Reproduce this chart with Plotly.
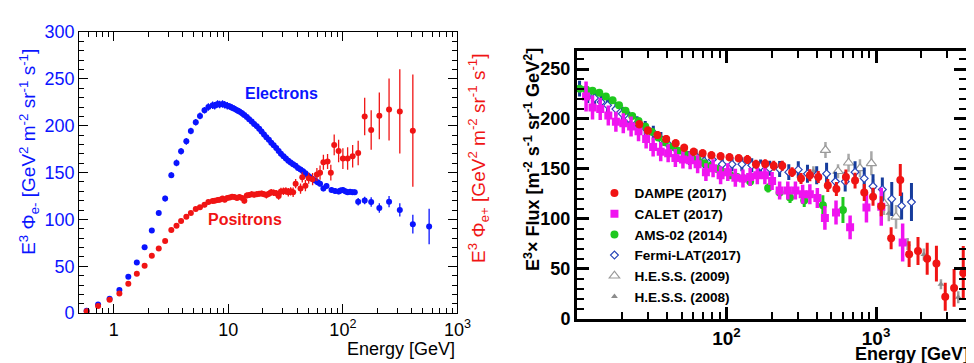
import plotly.graph_objects as go

# ---------------- Left panel data ----------------
e_energy = [0.58, 0.73, 0.92, 1.12, 1.34, 1.59, 1.86, 2.15, 2.47, 2.81, 3.18, 3.53, 3.87, 4.30, 4.71,
            5.20, 5.66, 6.2, 6.7, 7.3, 7.6, 8.06, 8.4, 8.9, 9.3, 9.8, 10.3, 10.8, 11.3, 11.9, 12.5,
            13.2, 13.8, 14.5, 15.2, 16.0, 16.8, 17.7, 18.6, 19.5, 20.5, 21.5, 22.6, 23.7, 24.9,
            26.2, 27.5, 28.8, 30.3, 31.8, 33.4, 35.0, 36.8, 38.7, 40.6, 42.7, 44.9, 47.1, 49.5,
            52.0, 54.6, 57.3, 60.2, 63.2, 67.6, 72.0, 79.6, 85.5, 91.8, 95.5, 100, 105, 110, 115.5,
            121.7, 127, 136, 155, 176.6, 208, 253, 314, 408, 566]
e_flux = [2.4, 9.1, 15.2, 24.6, 38.8, 53.9, 70.4, 88.3, 106.8, 122.3, 147.3, 160.4, 172.9, 183.4, 194.5,
          203.9, 210.6, 216.7, 220.0, 222.0, 221.5, 223.4, 222.8, 223.4, 222.5, 221.4, 220.6, 219.4, 218.2,
          216.7, 215.2, 213.3, 211.5, 209.3, 207.0, 204.6, 202.0, 199.6, 196.8, 193.8, 190.8, 187.7, 185.0,
          182.0, 179.3, 176.3, 173.0, 170.2, 167.5, 165.2, 162.8, 160.8, 159.0, 157.4, 155.0, 153.4, 151.5,
          149.3, 147.0, 145.0, 143.2, 141.6, 139.8, 138.2, 133.0, 135.8, 131.4, 130.5, 129.8, 130.8, 131.4,
          130.0, 129.0, 129.5, 129.0, 129.0, 119.0, 120.3, 118.6, 112.2, 119.0, 110.2, 95.0, 92.4]
e_err = [1, 1, 1, 1, 1, 1, 1.5, 2, 2.5, 3, 3, 3.5, 3.5, 3.5, 3.5,
         3.5, 3.5, 3.5, 4, 4, 4, 4, 4, 4, 4, 4, 3.5, 3.5, 3.5, 3.5, 3.5,
         3.5, 3, 3, 3, 3, 3, 3, 3, 3, 3, 3, 3, 3, 3,
         3, 3, 3, 3, 3, 3, 3, 3, 3, 3, 3, 3, 3, 3,
         3, 3, 3, 3, 3, 3, 3, 3, 3, 3, 3, 3, 3, 3, 3,
         3, 3, 4, 4, 5, 5, 6, 7, 10, 19]

p_energy = [0.58, 0.73, 0.92, 1.12, 1.34, 1.59, 1.86, 2.15, 2.47, 2.81, 3.18, 3.53, 3.87, 4.30, 4.71,
            5.20, 5.66, 6.2, 6.7, 7.3, 7.6, 8.06, 8.4, 8.9, 9.3, 9.8, 10.3, 10.8, 11.3, 11.9, 12.5,
            13.2, 13.8, 14.5, 15.2, 16.0, 16.8, 17.7, 18.6, 19.5, 20.5, 21.5, 22.6, 23.7, 24.9,
            26.2, 27.5, 28.8, 30.3, 31.8, 33.4, 35.0, 36.8, 38.7, 42.7, 44.2, 47.1, 50.3, 54.4,
            59.3, 63.2, 67.6, 73.5, 78.5, 84, 91.8, 100, 110, 121.7, 136, 155, 176.6, 208, 253, 314, 408]
p_flux = [0.2, 0.75, 1.42, 2.1, 3.13, 4.2, 5.05, 6.13, 6.9, 7.7, 8.86, 9.34, 9.84, 10.28, 10.68,
          11.12, 11.29, 11.56, 11.87, 11.97, 12.0, 12.07, 12.1, 12.23, 12.1, 12.3, 12.35, 12.43, 12.4,
          12.3, 12.4, 12.3, 12.0, 12.57, 12.6, 12.7, 12.65, 12.7, 12.75, 12.77, 12.7, 12.6, 12.75,
          12.9, 12.85, 12.8, 12.5, 12.98, 13.0, 13.05, 12.9, 13.0, 12.9, 13.82, 13.3, 14.5, 13.6,
          14.4, 14.3, 14.8, 15.0, 16.1, 16.2, 15.0, 17.96, 17.3, 16.5, 16.5, 16.75, 17.1, 21.0,
          19.55, 21.07, 21.74, 21.54, 19.48]
p_err = [0.1, 0.1, 0.1, 0.1, 0.1, 0.15, 0.15, 0.15, 0.2, 0.2, 0.2, 0.2, 0.2, 0.2, 0.2,
         0.2, 0.2, 0.25, 0.25, 0.25, 0.25, 0.25, 0.25, 0.25, 0.25, 0.25, 0.25, 0.25, 0.25, 0.25, 0.25,
         0.25, 0.3, 0.3, 0.3, 0.3, 0.3, 0.3, 0.3, 0.3, 0.3, 0.35, 0.35, 0.35, 0.35,
         0.35, 0.4, 0.4, 0.4, 0.4, 0.45, 0.45, 0.5, 0.5, 0.55, 0.55, 0.6, 0.6, 0.65,
         0.7, 0.75, 0.8, 0.8, 0.85, 1.1, 1.2, 1.1, 1.2, 1.2, 1.3, 2.0, 2.1, 2.5, 3.3, 4.5, 6.0]

left_xtick_vals = [1, 10, 100, 1000]
left_xtick_text = ["1", "10", "10<sup>2</sup>", "10<sup>3</sup>"]
left_y_ticks = [0, 50, 100, 150, 200, 250, 300]
right_y_ticks = [5, 10, 15, 20, 25]

# ---------------- Right panel data ----------------
dampe_E = [26.1, 29.8, 34.5, 39.5, 45.7, 52.1, 60.3, 69.2, 79.3, 91.3, 104.7, 120.6, 138, 157.4, 181.4,
           207, 236, 274.7, 315, 361, 411, 476, 543, 629, 724, 834, 955, 1084, 1262, 1453, 1665, 1909,
           2199, 2535, 2904, 3328, 3832]
dampe_F = [194.8, 188.4, 184.0, 179.9, 175.8, 171.1, 167.3, 165.7, 163.8, 162.6, 161.6, 160.7, 159.4,
           154.7, 155.3, 153.1, 153.1, 146.8, 140.5, 143.6, 142.0, 133.5, 130.0, 142.0, 138.3, 126.3,
           122.2, 112.7, 80.5, 138.9, 64.7, 67.9, 60.0, 55.2, 22.1, 30.9, 45.8]
dampe_err = [4, 4, 4, 4, 4, 4, 4, 4, 4, 4, 4, 4, 4.5, 4.5, 4.5, 5, 5, 5, 5.5, 6, 6, 6.5, 7, 7.5, 8, 8.5,
             9, 10, 11, 16, 13, 14, 16, 18, 14, 19, 27]

calet_E = [11.5, 12.7, 14.3, 16.2, 18.2, 20.4, 23.0, 25.8, 29.0, 32.3, 36.3, 40.7, 45.5, 51.1, 57.1,
           64.1, 72.8, 81.3, 91.3, 102, 114.6, 128.8, 143.9, 160.7, 180.6, 201.8, 226.6, 257, 289, 323,
           361, 405, 455, 540, 671, 863, 1084, 1507]
calet_F = [222.5, 211.5, 209.9, 203.6, 197.3, 195.7, 192.5, 187.8, 179.9, 172.0, 167.3, 165.7, 161.0,
           159.4, 158.8, 154.7, 146.8, 150.6, 143.6, 146.8, 141.1, 140.5, 142.0, 143.6, 143.6, 137.9,
           128.5, 128.5, 128.5, 124.7, 124.7, 120.9, 101.0, 106.4, 91.5, 111.4, 112.1, 76.4]
calet_err = [15, 12, 11, 10, 10, 10, 10, 10, 9.5, 9.5, 9.5, 9, 9, 9, 9, 9, 9, 9, 9, 9, 9, 9, 9, 9, 9, 9,
             9, 9, 9, 9.5, 10, 10, 12, 12, 12, 15, 19, 19]

ams_E = [10.4, 11.5, 12.7, 14.1, 15.6, 17.3, 19.1, 21.1, 23.4, 25.8, 28.6, 31.6, 35.0, 38.7, 42.9, 47.3,
         52.4, 57.9, 64.1, 70.9, 78.5, 86.9, 96.0, 106.2, 117.5, 130, 143.9, 189.8, 226.6, 266, 331, 441, 601]
ams_F = [230.4, 229.5, 228.2, 226.3, 222.5, 218.8, 213.7, 208.3, 203.0, 197.9, 192.5, 187.2, 181.5, 176.8,
         172.0, 168.2, 165.1, 162.6, 159.4, 155.6, 153.1, 149.9, 146.8, 143.6, 142.0, 140.5, 137.3, 131.0,
         126.3, 121.5, 118.4, 113.6, 108.9]
ams_err = [3, 3, 3, 3, 3, 3, 3, 3, 3, 3, 3, 3, 3, 3, 3, 3, 3, 3, 3, 3, 3, 3, 3.5, 3.5, 3.5, 4, 4, 4.5,
           5, 5.5, 6.5, 10, 13]

fermi_E = [10.4, 11.8, 13.1, 14.5, 16.0, 18.2, 20.1, 22.2, 25.2, 28.6, 32.4, 36.4, 40.7, 46.2, 52.4, 56.5,
           62.5, 70.9, 80.5, 93.6, 108.9, 126.7, 147.5, 169, 194.7, 226.6, 261, 302, 348, 401, 467, 535,
           622, 724, 834, 955, 1102, 1274, 1483, 1726]
fermi_F = [230.4, 224.1, 221.0, 216.9, 213.7, 209.9, 205.2, 200.4, 195.7, 191.0, 186.2, 179.9, 174.6, 169.5,
           165.7, 161.0, 162.6, 157.8, 159.4, 154.7, 154.7, 154.7, 153.7, 152.5, 150.6, 149.9, 146.8, 149.3,
           145.2, 143.6, 145.2, 137.3, 137.3, 146.8, 140.5, 132.6, 129.4, 120.0, 113.0, 116.8]
fermi_err = [8, 8, 7, 7, 7, 7, 7, 7, 7, 7, 7, 7, 7, 7, 7, 7, 7, 7, 7, 7, 7, 7, 7, 7, 7.5, 8, 8, 8.5,
             9, 9, 11, 10, 10, 11, 11, 12, 12, 17, 13.5, 19]

hess09_E = [459, 557, 655, 781, 931, 1129, 1361]
hess09_F = [168.9, 147.7, 156.2, 150.6, 155.6, 115.8, 102.0]
hess09_err = [8, 7, 9, 9, 12, 12, 12]

hess08_E = [381, 955, 1218, 1627, 2089, 2718, 3548]
hess08_F = [147.7, 131.6, 105.7, 74.8, 64.3, 34.5, 21.5]
hess08_err = [5, 8, 8, 6, 6, 5, 6]

right_xtick_vals = [100, 1000]
right_xtick_text = ["<b>10<sup>2</sup></b>", "<b>10<sup>3</sup></b>"]
right_y_ticks = [0, 50, 100, 150, 200, 250]

# ---------------- Figure ----------------
W, H = 974, 363
FONT = "Liberation Sans, Arial, Helvetica, sans-serif"
BLUE = "#0a14ff"
RED = "#f01414"

def px_x(p):
    return p / W

def px_y(p):
    return 1 - p / H

fig = go.Figure()

fig.add_trace(go.Scatter(x=e_energy, y=e_flux, mode="markers", xaxis="x", yaxis="y",
                         marker=dict(color=BLUE, size=6),
                         error_y=dict(type="data", array=e_err, color=BLUE, thickness=1.3, width=0),
                         showlegend=False))
fig.add_trace(go.Scatter(x=p_energy, y=p_flux, mode="markers", xaxis="x", yaxis="y2",
                         marker=dict(color=RED, size=6),
                         error_y=dict(type="data", array=p_err, color=RED, thickness=1.3, width=0),
                         showlegend=False))

def add_right(name, rank, x, y, err, symbol, color, size, ecolor, eth, line=None):
    fig.add_trace(go.Scatter(x=x, y=y, mode="markers", xaxis="x3", yaxis="y3", name=name,
                             legendgroup=name, legendrank=rank,
                             marker=dict(symbol=symbol, color=color, size=size,
                                         line=line if line else dict(width=0)),
                             error_y=dict(type="data", array=err, color=ecolor, thickness=eth, width=0)))

add_right("H.E.S.S. (2008)", 6, hess08_E, hess08_F, hess08_err, "triangle-up", "#8c8c8c", 6, "#a0a0a0", 2.5)
add_right("H.E.S.S. (2009)", 5, hess09_E, hess09_F, hess09_err, "triangle-up", "white", 9, "#a8a8a8", 2.5,
          line=dict(color="#9a9a9a", width=1.2))
add_right("Fermi-LAT(2017)", 4, fermi_E, fermi_F, fermi_err, "diamond", "white", 6, "#163c9c", 3,
          line=dict(color="#2846b8", width=1.2))
add_right("AMS-02 (2014)", 3, ams_E, ams_F, ams_err, "circle", "#1ec81e", 8, "#1ec81e", 3)
add_right("CALET (2017)", 2, calet_E, calet_F, calet_err, "square", "#f014f0", 8, "#f014f0", 3.5)
add_right("DAMPE (2017)", 1, dampe_E, dampe_F, dampe_err, "circle", RED, 8, RED, 3)

minor_log_left = [m * 10 ** d for d in range(-1, 3) for m in range(2, 10)]
minor_log_right = [m * 10 ** d for d in range(1, 4) for m in range(2, 10)]

left_dom_x = [px_x(72.3), px_x(456)]
left_dom_y = [px_y(312.3), px_y(15)]
right_dom_x = [px_x(577.3), px_x(972)]
right_dom_y = [px_y(318.3), px_y(35)]

fig.update_layout(
    width=W, height=H, margin=dict(l=0, r=0, t=0, b=0),
    paper_bgcolor="white", plot_bgcolor="white",
    font=dict(family=FONT, color="black"),
    xaxis=dict(type="log", range=[-0.30103, 3], domain=left_dom_x, anchor="y",
               showgrid=False, zeroline=False, showline=True, linecolor="black", linewidth=1.3,
               mirror="ticks", ticks="inside", ticklen=9, tickwidth=1.1, tickcolor="black",
               tickvals=left_xtick_vals, ticktext=left_xtick_text,
               tickfont=dict(size=18, color="black"),
               minor=dict(tickmode="array", tickvals=minor_log_left, ticks="inside", ticklen=5,
                          tickwidth=1.1, tickcolor="black", showgrid=False)),
    yaxis=dict(range=[0, 300], domain=left_dom_y, anchor="x",
               showgrid=False, zeroline=False, showline=True, linecolor="black", linewidth=1.3,
               mirror="ticks", ticks="inside", ticklen=9, tickwidth=1.1, tickcolor="black",
               tickvals=left_y_ticks, tickfont=dict(size=18, color=BLUE),
               minor=dict(dtick=10, ticks="inside", ticklen=5, tickwidth=1.1, tickcolor="black",
                          showgrid=False)),
    yaxis2=dict(range=[0, 30], overlaying="y", side="right", anchor="x",
                showgrid=False, zeroline=False, showline=False, ticks="",
                tickvals=right_y_ticks, ticklabelposition="inside",
                tickfont=dict(size=18, color=RED), ticklabelstandoff=6),
    xaxis3=dict(type="log", range=[1, 3.602], domain=right_dom_x, anchor="y3",
                showgrid=False, zeroline=False, showline=True, linecolor="black", linewidth=3,
                mirror="ticks", ticks="inside", ticklen=12, tickwidth=2.5, tickcolor="black",
                tickvals=right_xtick_vals, ticktext=right_xtick_text,
                tickfont=dict(size=19, color="black"),
                minor=dict(tickmode="array", tickvals=minor_log_right, ticks="inside", ticklen=7,
                           tickwidth=2.2, tickcolor="black", showgrid=False)),
    yaxis3=dict(range=[0, 268], domain=right_dom_y, anchor="x3",
                showgrid=False, zeroline=False, showline=True, linecolor="black", linewidth=3,
                mirror="ticks", ticks="inside", ticklen=12, tickwidth=2.5, tickcolor="black",
                tickvals=right_y_ticks, tickfont=dict(size=18, color="black", weight="bold"),
                minor=dict(dtick=10, ticks="inside", ticklen=7, tickwidth=2.2, tickcolor="black",
                           showgrid=False)),
    legend=dict(x=px_x(595), y=px_y(169), xanchor="left", yanchor="top",
                bgcolor="rgba(0,0,0,0)", traceorder="grouped", tracegroupgap=0,
                font=dict(size=13.6, color="black", weight="bold"), itemwidth=30),
)

ann = [
    dict(text="<b>Electrons</b>", x=px_x(277), y=px_y(80), font=dict(size=16, color=BLUE)),
    dict(text="<b>Positrons</b>", x=px_x(240), y=px_y(213), font=dict(size=16, color=RED)),
    dict(text="E<sup>3</sup> Φ<sub>e-</sub> [GeV<sup>2</sup> m<sup>-2</sup> sr<sup>-1</sup> s<sup>-1</sup>]",
         x=px_x(21), y=px_y(142), textangle=-90, font=dict(size=19, color=BLUE)),
    dict(text="E<sup>3</sup> Φ<sub>e+</sub> [GeV<sup>2</sup> m<sup>-2</sup> sr<sup>-1</sup> s<sup>-1</sup>]",
         x=px_x(478), y=px_y(149), textangle=-90, font=dict(size=19, color=RED)),
    dict(text="Energy [GeV]", x=px_x(456), y=px_y(350), xanchor="right", font=dict(size=18, color="black")),
    dict(text="<b>E<sup>3</sup>× Flux [m<sup>-2</sup> s<sup>-1</sup> sr<sup>-1</sup> GeV<sup>2</sup>]</b>",
         x=px_x(532), y=px_y(150), textangle=-90, font=dict(size=18, color="black")),
    dict(text="<b>Energy [GeV]</b>", x=px_x(977), y=px_y(356), xanchor="right", font=dict(size=18, color="black")),
]
for a in ann:
    a.setdefault("xanchor", "center")
    fig.add_annotation(xref="paper", yref="paper", showarrow=False, yanchor="middle",
                       font_family=FONT, **a)

fig.write_html("out.html")
